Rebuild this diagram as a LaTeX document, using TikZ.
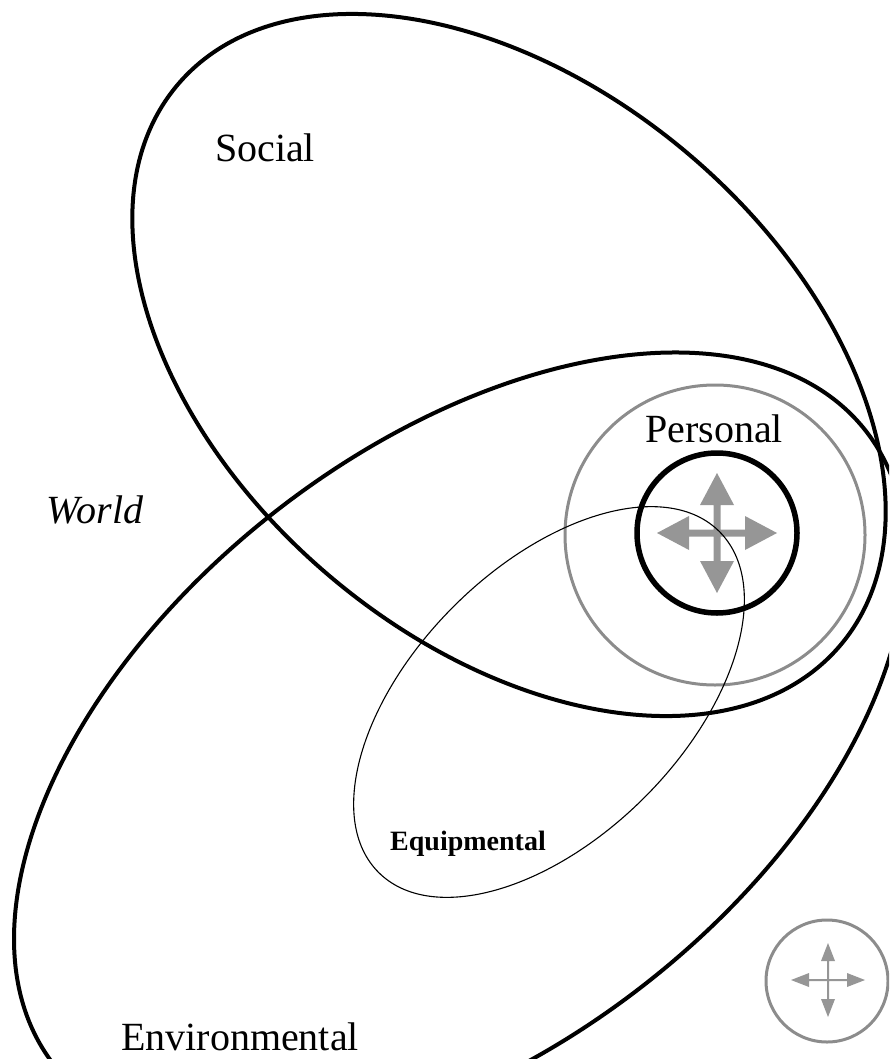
\documentclass[tikz,border=0pt]{standalone}
\usepackage{fontspec}
\setmainfont{Liberation Serif}
\definecolor{circgray}{RGB}{140,140,140}
\definecolor{arrgray}{RGB}{150,150,150}
\tikzset{
  ring/.style={line width=4pt, black},
  thinring/.style={line width=1.1pt, black},
  grayring/.style={line width=3pt, circgray},
  lbl/.style={inner sep=0pt, anchor=base, font=\fontsize{40}{48}\selectfont},
  pics/fourway/.style n args={4}{code={
    \pgfmathsetmacro\fwK{#1-#2}
    \fill[arrgray] (#1,0) -- (\fwK,#3) -- (\fwK,#4) -- (#4,#4) -- (#4,\fwK) -- (#3,\fwK)
      -- (0,#1) -- (-#3,\fwK) -- (-#4,\fwK) -- (-#4,#4) -- (-\fwK,#4) -- (-\fwK,#3)
      -- (-#1,0) -- (-\fwK,-#3) -- (-\fwK,-#4) -- (-#4,-#4) -- (-#4,-\fwK) -- (-#3,-\fwK)
      -- (0,-#1) -- (#3,-\fwK) -- (#4,-\fwK) -- (#4,-#4) -- (\fwK,-#4) -- (\fwK,-#3) -- cycle;
  }}
}
\begin{document}
\begin{tikzpicture}[x=1pt,y=-1pt]
\useasboundingbox (0,0) rectangle (889,1059);
\clip (0,0) rectangle (889,1059);
% gray movement crosses
\pic at (717,533) {fourway={60}{32}{17}{3.5}};
\pic at (828,980) {fourway={37}{18}{7}{1}};
% Social
\draw[ring, rotate around={-40.2:(509,365)}] (509,365) ellipse [x radius=434pt, y radius=277pt];
% Environmental
\draw[ring, rotate around={38:(460,748)}] (460,748) ellipse [x radius=515pt, y radius=300pt];
% Personal rings
\draw[grayring] (715,535) circle [radius=150pt];
\draw[line width=5.5pt] (717,533) circle [radius=80pt];
% Equipmental
\draw[thinring, rotate around={45:(549,702)}] (549,702) ellipse [x radius=241pt, y radius=135pt];
% small ring
\draw[grayring] (827,981) circle [radius=61pt];
% labels
\node[lbl] (social) at (265,162) {Social};
\node[lbl] (personal) at (714,442) {Personal};
\node[lbl] (environmental) at (240,1050) {Environmental};
\node[lbl, font=\fontsize{40}{48}\selectfont\itshape] (world) at (95,523) {World};
\node[lbl, font=\fontsize{28}{33}\selectfont\bfseries] (equipmental) at (468,850) {Equipmental};
\end{tikzpicture}
\end{document}
